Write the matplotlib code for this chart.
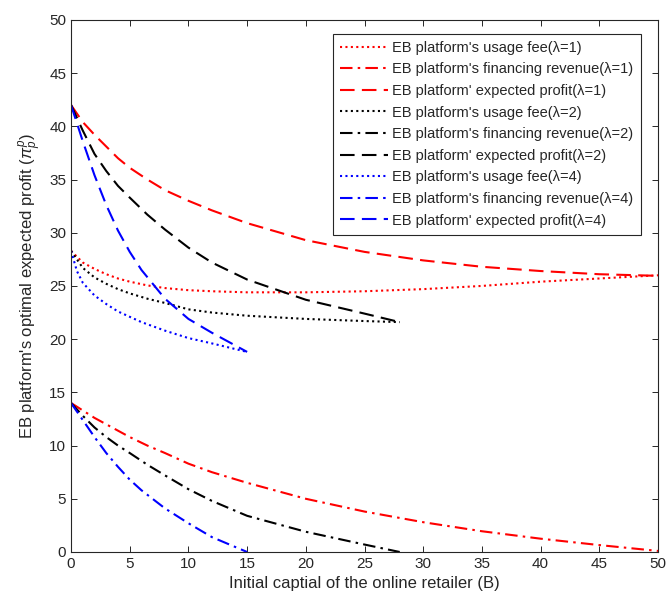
import matplotlib
matplotlib.use("Agg")
import matplotlib.pyplot as plt

plt.rcParams['font.family'] = ['Liberation Sans', 'DejaVu Sans']
plt.rcParams['mathtext.fontset'] = 'custom'
plt.rcParams['mathtext.rm'] = 'Liberation Sans'
plt.rcParams['mathtext.it'] = 'Liberation Sans:italic'

# lambda = 1
x1 = [0, 1, 2, 3, 4, 5, 6.5, 8, 10, 12, 15, 20, 25, 30, 35, 40, 45, 50]
usage1 = [28.3, 27.2, 26.6, 26.1, 25.7, 25.4, 25.05, 24.8, 24.6, 24.5, 24.4, 24.4, 24.5, 24.7, 25.0, 25.4, 25.7, 26.0]
fin1 = [14.0, 13.3, 12.6, 12.0, 11.4, 10.8, 10.0, 9.3, 8.3, 7.5, 6.5, 5.0, 3.8, 2.8, 1.95, 1.25, 0.65, 0.1]
profit1 = [42.0, 40.4, 39.2, 38.1, 37.0, 36.1, 35.0, 34.0, 33.0, 32.1, 30.9, 29.3, 28.2, 27.4, 26.8, 26.4, 26.1, 25.95]

# lambda = 2
x2 = [0, 1, 2, 3, 4, 5, 6.5, 8, 10, 12, 15, 20, 25, 28]
usage2 = [28.3, 26.7, 25.8, 25.2, 24.7, 24.3, 23.8, 23.4, 22.8, 22.5, 22.2, 21.9, 21.7, 21.6]
fin2 = [14.0, 12.8, 11.7, 10.8, 10.0, 9.3, 8.2, 7.2, 5.9, 4.8, 3.4, 1.9, 0.7, 0.0]
profit2 = [42.0, 39.6, 37.4, 35.8, 34.4, 33.3, 31.7, 30.3, 28.6, 27.2, 25.6, 23.7, 22.4, 21.6]

# lambda = 4
x4 = [0, 0.5, 1, 2, 3, 4, 5, 6, 8, 10, 12, 15]
usage4 = [28.3, 26.4, 25.3, 24.1, 23.3, 22.6, 22.1, 21.6, 20.8, 20.1, 19.6, 18.8]
fin4 = [14.0, 13.2, 12.4, 10.8, 9.3, 8.0, 6.8, 5.8, 4.1, 2.7, 1.4, 0.0]
profit4 = [42.0, 40.3, 38.6, 35.4, 32.6, 30.2, 28.2, 26.5, 23.8, 21.9, 20.6, 18.8]

labels = [
    "EB platform's usage fee(λ=1)",
    "EB platform's financing revenue(λ=1)",
    "EB platform' expected profit(λ=1)",
    "EB platform's usage fee(λ=2)",
    "EB platform's financing revenue(λ=2)",
    "EB platform' expected profit(λ=2)",
    "EB platform's usage fee(λ=4)",
    "EB platform's financing revenue(λ=4)",
    "EB platform' expected profit(λ=4)",
]

fig = plt.figure(figsize=(6.67, 6.04), dpi=100)
ax = fig.add_axes([0.1065, 0.0861, 0.88, 0.881])

lw = 1.5
dot = (0, (1, 1.6))
dashdot = (0, (6, 2.5, 1.2, 2.5))
dash = (0, (7, 3.5))

series = [
    (x1, usage1, 'red', dot), (x1, fin1, 'red', dashdot), (x1, profit1, 'red', dash),
    (x2, usage2, 'black', dot), (x2, fin2, 'black', dashdot), (x2, profit2, 'black', dash),
    (x4, usage4, 'blue', dot), (x4, fin4, 'blue', dashdot), (x4, profit4, 'blue', dash),
]
for (xs, ys, c, ls), lab in zip(series, labels):
    ax.plot(xs, ys, color=c, linestyle=ls, linewidth=lw, label=lab)

ax.set_xlim(0, 50)
ax.set_ylim(0, 50)
ax.set_xticks(range(0, 51, 5))
ax.set_yticks(range(0, 51, 5))
axcol = '#262626'
ax.tick_params(direction='in', top=True, right=True, labelsize=11, colors=axcol,
               length=4, width=0.7, labelcolor=axcol)
for s in ax.spines.values():
    s.set_color(axcol)
    s.set_linewidth(0.8)

ax.set_xlabel("Initial captial of the online retailer (B)", fontsize=12, color=axcol)
ax.set_ylabel(r"EB platform's optimal expected profit ($\pi_p^p$)", fontsize=12, color=axcol)

leg = ax.legend(loc='upper right', fontsize=10.5, frameon=True, fancybox=False,
                edgecolor=axcol, framealpha=1, handlelength=3.3, handletextpad=0.3,
                labelspacing=0.52, borderpad=0.5, bbox_to_anchor=(0.983, 0.988))
leg.get_frame().set_linewidth(0.8)
for t in leg.get_texts():
    t.set_color(axcol)

fig.savefig("out.png", dpi=100)
